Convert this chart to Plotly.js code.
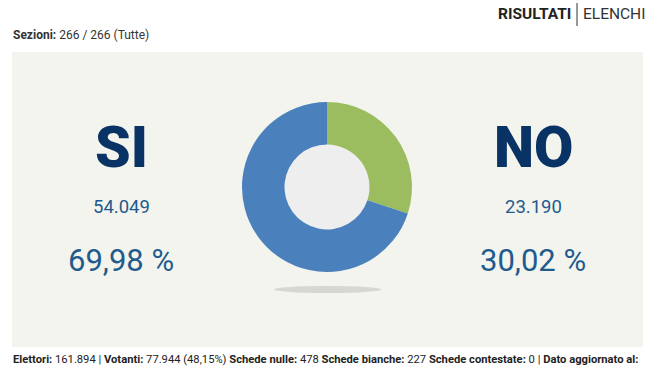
<!DOCTYPE html>
<html><head><meta charset="utf-8">
<script src="https://cdn.plot.ly/plotly-3.0.1.min.js"></script>
<style>html,body{margin:0;padding:0;background:#fff;}#chart{width:653px;height:367px;}</style>
</head><body><div id="chart"></div>
<script>
// Data
const labels = ["NO", "SI"];
const votes = [23190, 54049];
const colors = ["#9bbd5f", "#4a80bb"];
const sezioni = "266 / 266 (Tutte)";
const elettori = "161.894";
const votanti = "77.944 (48,15%)";
const schedeNulle = "478";
const schedeBianche = "227";
const schedeContestate = "0";

const W = 653, H = 367;
const total = votes.reduce((a, b) => a + b, 0);
const fmtInt = v => v.toString().replace(/\B(?=(\d{3})+(?!\d))/g, ".");
const fmtPct = v => (v * 100 / total).toFixed(2).replace(".", ",") + " %";

const cx = 327, cy = 187, R = 85;
const px = x => x / W, py = y => 1 - y / H;

const FONT = "Roboto, sans-serif";
const navy = "#0a3365", mid = "#1f5b8c";

const annotations = [];
function addText(text, x, y, size, color, anchor, weight) {
  annotations.push({text: text, x: px(x), y: py(y), xref: "paper", yref: "paper",
    xanchor: anchor || "center", yanchor: "middle", showarrow: false,
    font: {family: FONT, size: size, color: color, weight: weight || 400}});
}
const sideX = {"SI": 121, "NO": 533};
labels.forEach((lab, i) => {
  const x = sideX[lab];
  addText(lab, x, 147, 57, navy, "center", 900);
  addText(fmtInt(votes[i]), x, 207, 18.5, mid);
  addText(fmtPct(votes[i]), x, 260, 31, mid);
});
addText("<b>Sezioni:</b> " + sezioni, 11, 35, 12, "#333", "left");
addText("<b>RISULTATI</b>", 573, 14, 15.5, "#222", "right");
addText("ELENCHI", 581, 14, 15.5, "#333", "left");
addText("<b>Elettori:</b> " + elettori + " | <b>Votanti:</b> " + votanti +
  " <b>Schede nulle:</b> " + schedeNulle + " <b>Schede bianche:</b> " + schedeBianche +
  " <b>Schede contestate:</b> " + schedeContestate + " | <b>Dato aggiornato al:</b>",
  11, 359, 11.2, "#222", "left");

const shapes = [
  {type: "rect", xref: "paper", yref: "paper", x0: px(12), x1: px(643), y0: py(52), y1: py(347),
   fillcolor: "#f4f4ef", line: {width: 0}, layer: "below"},
  {type: "circle", xref: "paper", yref: "paper", x0: px(cx - 43), x1: px(cx + 43), y0: py(cy - 43), y1: py(cy + 43),
   fillcolor: "#eeeeee", line: {width: 0}, layer: "below"},
  {type: "circle", xref: "paper", yref: "paper", x0: px(274), x1: px(381), y0: py(286), y1: py(293),
   fillcolor: "rgba(190,190,185,0.55)", line: {width: 0}, layer: "below"},
  {type: "line", xref: "paper", yref: "paper", x0: px(577), x1: px(577), y0: py(3), y1: py(26),
   line: {color: "#333", width: 1}}
];

const trace = {
  type: "pie", labels: labels, values: votes, hole: 0.5, sort: false,
  direction: "clockwise", rotation: 0,
  marker: {colors: colors, line: {width: 0}},
  textinfo: "none", hoverinfo: "none", showlegend: false,
  domain: {x: [px(cx - R), px(cx + R)], y: [py(cy + R), py(cy - R)]}
};

Plotly.newPlot("chart", [trace], {
  width: W, height: H, margin: {l: 0, r: 0, t: 0, b: 0},
  paper_bgcolor: "#ffffff", plot_bgcolor: "rgba(0,0,0,0)",
  shapes: shapes, annotations: annotations, showlegend: false
}, {displayModeBar: false, staticPlot: true});
</script></body></html>
